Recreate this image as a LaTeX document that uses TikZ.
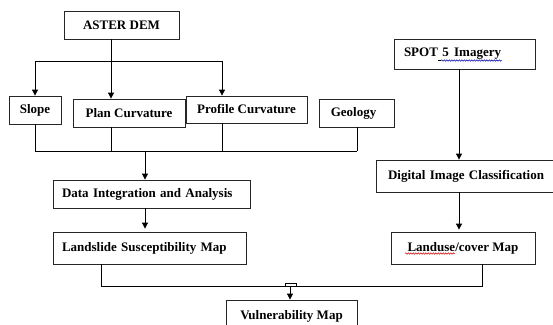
\documentclass[tikz,border=0pt]{standalone}
\usepackage{fontspec}
\setmainfont{Liberation Serif}
\usetikzlibrary{arrows.meta,decorations.pathmorphing}
\begin{document}
\begin{tikzpicture}[x=1pt,y=-1pt,
  line width=0.8pt,
  box/.style={draw=black!85, rectangle, inner sep=0pt, font=\fontsize{13}{15}\selectfont\bfseries},
  leftbox/.style={box, align=left},
  arr/.style={-{Triangle[length=6pt,width=6pt]}},
  wave/.style={line width=0.5pt, decorate,
    decoration={snake, amplitude=0.7pt, segment length=2.5pt}}]
\useasboundingbox (0,0) rectangle (553,324);
\fill[white] (0,0) rectangle (553,324);
\begin{scope}
\clip (0,0) rectangle (553,324);

% boxes
\node[box, minimum width=115pt, minimum height=28pt] (dem) at (121.5,25) {ASTER DEM};
\node[box, minimum width=52pt, minimum height=28pt] (slope) at (35,110) {Slope};
\node[box, minimum width=112pt, minimum height=28pt] (plan) at (129,113) {Plan Curvature};
\node[box, minimum width=121pt, minimum height=27pt] (profile) at (246.5,109.5) {Profile Curvature};
\node[box, minimum width=75pt, minimum height=28pt] (geology) at (356.5,113) {\hspace*{-6pt}Geology};
\node[leftbox, text width=121pt, inner xsep=10pt, minimum height=30pt] (spot) at (464.5,54) {SPOT 5 \hspace{1pt}Imagery};
\node[leftbox, text width=179pt, inner xsep=9pt, minimum height=28pt] (data) at (151.5,194) {Data Integration and Analysis};
\node[leftbox, text width=175pt, inner xsep=9pt, minimum height=32pt] (land) at (149.5,248) {\raisebox{2pt}{Landslide Susceptibility Map}};
\node[leftbox, text width=180pt, inner xsep=12pt, minimum height=32pt] (dic) at (478,176) {\raisebox{2pt}{Digital Image Classification}};
\node[box, minimum width=144pt, minimum height=32pt] (landuse) at (463,248) {\raisebox{2pt}{Landuse/cover Map}};
\node[box, minimum width=131pt, minimum height=40pt] (vul) at (291.5,320) {\raisebox{10pt}{Vulnerability Map}};

% spell-check underlines
\draw[blue!70!black, wave] (441,60.5) -- (502,60.5);
\draw[black, line width=0.5pt] (438,60.5) -- (441,60.5);
\draw[red!80!black, wave] (405,253.5) -- (455,253.5);

% junction points
\coordinate (demout) at (111,39);
\coordinate (split) at (111,61);
\coordinate (join) at (145,151);
\coordinate (mleft) at (101,286);
\coordinate (merge) at (290,286);
\coordinate (mright) at (482,286);

% ASTER DEM to the three derived layers
\draw[arr] (demout) -- (plan.north -| demout);
\draw (split -| slope.south) -- (split -| 222,0);
\draw[arr] (split -| slope.south) -- (slope.north);
\draw[arr] (split -| 222,0) -- (profile.north -| 222,0);

% collecting the four layers
\draw (slope.south) -- (join -| slope.south);
\draw (plan.south -| 111,0) -- (join -| 111,0);
\draw (profile.south -| 222,0) -- (join -| 222,0);
\draw (geology.south -| 357,0) -- (join -| 357,0);
\draw (join -| slope.south) -- (join -| 357,0);
\draw[arr] (join) -- (data.north -| join);
\draw[arr] (data.south -| join) -- ([yshift=3pt]land.north -| join);

% SPOT branch
\draw[arr] (spot.south -| 459,0) -- (dic.north -| 459,0);
\draw[arr] (dic.south -| 459,0) -- ([yshift=2pt]landuse.north -| 459,0);

% both maps into the vulnerability map
\draw (land.south -| mleft) -- (mleft) -- (mright) -- (landuse.south -| mright);
\draw[line width=0.6pt] (285,286) -- (285,283.5) -- (296,283.5) -- (296,286);
\draw[arr] (merge) -- (vul.north -| merge);
\end{scope}
\end{tikzpicture}
\end{document}
